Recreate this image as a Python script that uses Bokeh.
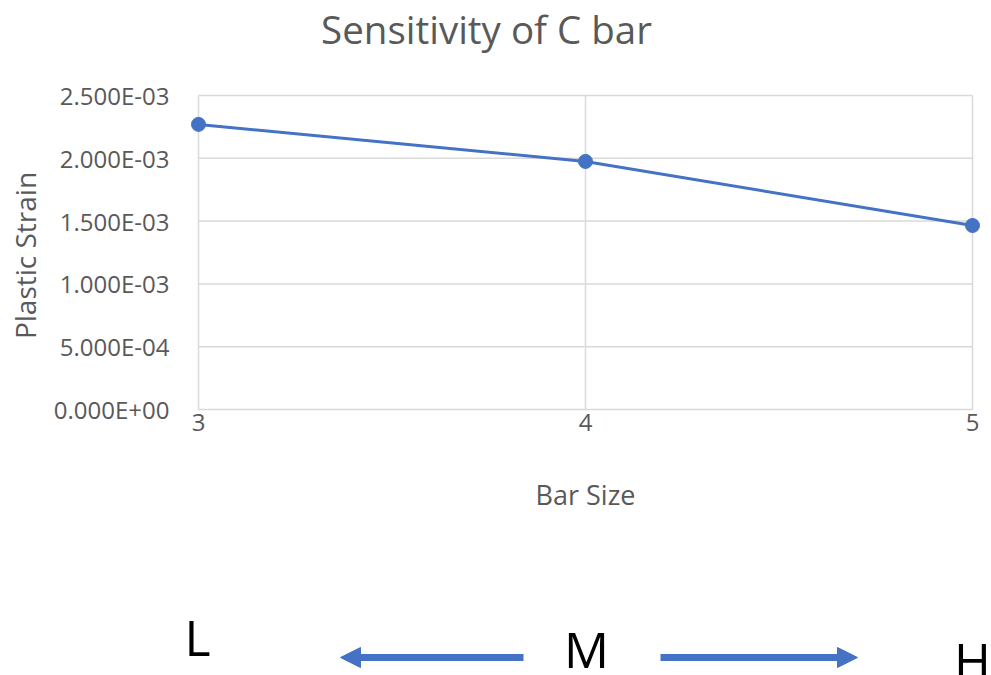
import math
from bokeh.plotting import figure
from bokeh.models import Range1d, Arrow, NormalHead
from bokeh.core.properties import value
from bokeh.embed import file_html
from bokeh.resources import INLINE

# ---- data ----
bar_sizes = [3, 4, 5]
plastic_strain = [2.27e-3, 1.975e-3, 1.465e-3]
y_ticks = [0.0, 0.0005, 0.0010, 0.0015, 0.0020, 0.0025]
x_tick_labels = ["3", "4", "5"]
y_tick_labels = [f"{v:.3E}" for v in y_ticks]
title_text = "Sensitivity of C bar"
x_label = "Bar Size"
y_label = "Plastic Strain"
scale_letters = ["L", "M", "H"]

FONT = "Open Sans"
GRAY = "#595959"
GRID = "#d9d9d9"
BLUE = "#4472C4"

W, H = 991, 675
# pixel scales (styling only)
ppx = 387.0                           # px per bar-size unit
ppy = 314.0 / y_ticks[-1]             # px per strain unit
X0_PX, Y0_PX, YTOP_PX = 198, 409, 95   # where x=3, y=0 and y=max sit on the page

x_start = bar_sizes[0] - X0_PX / ppx
x_end = x_start + W / ppx
y_end = y_ticks[-1] + YTOP_PX / ppy
y_start = y_end - H / ppy


def page_y(py):
    return (Y0_PX - py) / ppy


def page_x(px):
    return bar_sizes[0] + (px - X0_PX) / ppx


p = figure(width=W, height=H, x_range=Range1d(x_start, x_end),
           y_range=Range1d(y_start, y_end), x_axis_location=None,
           y_axis_location=None, toolbar_location=None, output_backend="svg",
           title=None, min_border_left=0, min_border_right=0, min_border_top=0,
           min_border_bottom=0)
p.outline_line_color = None
p.grid.visible = False

# gridlines (limited to the plot area)
n_y = len(y_ticks)
p.segment(x0=[bar_sizes[0]] * n_y, x1=[bar_sizes[-1]] * n_y, y0=y_ticks, y1=y_ticks,
          line_color=GRID, line_width=1.5)
n_x = len(bar_sizes)
p.segment(x0=bar_sizes, x1=bar_sizes, y0=[y_ticks[0]] * n_x, y1=[y_ticks[-1]] * n_x,
          line_color=GRID, line_width=1.5)

# series
p.line(bar_sizes, plastic_strain, line_color=BLUE, line_width=3)
p.scatter(bar_sizes, plastic_strain, size=14, fill_color=BLUE, line_color=BLUE)

# y tick labels
p.text(x=[page_x(169)] * n_y, y=y_ticks, text=y_tick_labels,
       text_font=value(FONT), text_font_size="24px", text_color=GRAY,
       text_align="right", text_baseline="middle")
# x tick labels
p.text(x=bar_sizes, y=[page_y(422)] * n_x, text=x_tick_labels,
       text_font=value(FONT), text_font_size="24px", text_color=GRAY,
       text_align="center", text_baseline="middle")
# axis titles
p.text(x=[(bar_sizes[0] + bar_sizes[-1]) / 2], y=[page_y(494)], text=[x_label],
       text_font=value(FONT), text_font_size="27px", text_color=GRAY,
       text_align="center", text_baseline="middle")
p.text(x=[page_x(24)], y=[page_y(255)], text=[y_label], angle=math.pi / 2,
       text_font=value(FONT), text_font_size="28px", text_color=GRAY,
       text_align="center", text_baseline="middle")

# chart title
p.text(x=[page_x(486)], y=[page_y(28)], text=[title_text],
       text_font=value(FONT), text_font_size="38.5px", text_color=GRAY,
       text_align="center", text_baseline="middle")

# L / M / H letters
letter_rows = [636, 648, 659]
letter_cols = [197, 586, 972]
p.text(x=[page_x(c) for c in letter_cols], y=[page_y(r) for r in letter_rows],
       text=scale_letters, text_font=value(FONT), text_font_size="50px",
       text_color="black", text_align="center", text_baseline="middle")

# arrows
mid = bar_sizes[1]
ay = page_y(657)
head_len = 20 / ppx
arrows = [(mid - 62 / ppx, mid - 245 / ppx), (mid + 75 / ppx, mid + 272 / ppx)]
for tail, tip in arrows:
    direction = 1 if tip > tail else -1
    p.add_layout(Arrow(x_start=tail, y_start=ay, x_end=tip - direction * head_len * 0.6,
                       y_end=ay, line_color=BLUE, line_width=7, end=None))
    p.add_layout(Arrow(x_start=tail, y_start=ay, x_end=tip, y_end=ay,
                       line_color=None,
                       end=NormalHead(size=20, fill_color=BLUE, line_color=BLUE,
                                      line_width=1)))

open("out.html", "w").write(file_html(p, INLINE))
